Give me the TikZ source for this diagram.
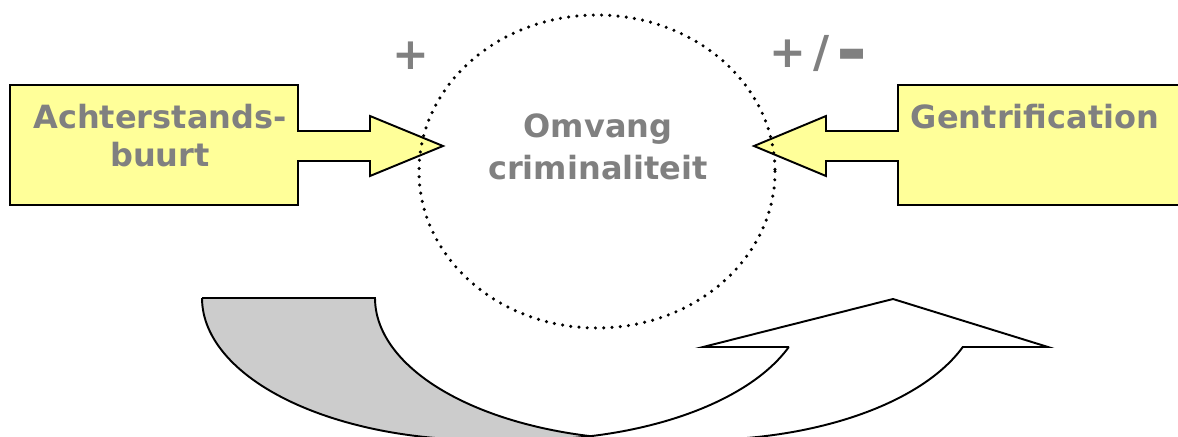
\documentclass[tikz,border=0pt]{standalone}
\usepackage{graphicx}
\usepackage{fontspec}
\setmainfont{DejaVu Sans}
\definecolor{boxyellow}{HTML}{FFFF99}
\definecolor{labelgray}{HTML}{808080}
\definecolor{bandgray}{HTML}{CCCCCC}

\begin{document}
\begin{tikzpicture}[x=0.75pt,y=-0.75pt,
  outline/.style={draw=black,line width=1.45pt,line join=miter},
  factor/.style={outline,fill=boxyellow},
  txt/.style={text=labelgray,align=center,inner sep=0pt},
  sign/.style={text=labelgray,inner sep=0pt,font=\bfseries\fontsize{33}{33}\selectfont},
  dotring/.style={draw=black,line width=2.6pt,line cap=round,dash pattern=on 0pt off 6.2pt},
]
\useasboundingbox (0,0) rectangle (1178,436);
\clip (0,0) rectangle (1178,436);

% left factor: box with block arrow pointing right
\path[factor] (10,85) -- (298,85) -- (298,131) -- (370,131) -- (370,116) -- (443,146)
  -- (370,176) -- (370,161) -- (298,161) -- (298,205) -- (10,205) -- cycle;
% right factor: box with block arrow pointing left
\path[factor] (1190,85) -- (898,85) -- (898,131) -- (826,131) -- (826,116) -- (754,146)
  -- (826,176) -- (826,161) -- (898,161) -- (898,205) -- (1190,205) -- cycle;

% dotted ring
\draw[dotring] (597,171.5) ellipse [x radius=178, y radius=156.5];

% curved feedback arrow: grey back band
\path[outline,fill=bandgray] (202,298) -- (375,298)
  -- plot[domain=180:90,samples=60,variable=\t] ({655+280*cos(\t)},{298+142*sin(\t)})
  -- (482,440)
  -- plot[domain=90:180,samples=60,variable=\t] ({482+280*cos(\t)},{298+142*sin(\t)})
  -- cycle;
% curved feedback arrow: white front band with head
\path[outline,fill=white] (789,347) -- (703,347) -- (893,299) -- (1048,347) -- (963,347)
  -- plot[domain=20.2:90,samples=60,variable=\t] ({700+280*cos(\t)},{298+142*sin(\t)})
  -- (526,440)
  -- plot[domain=90:20.2,samples=60,variable=\t] ({526+280*cos(\t)},{298+142*sin(\t)})
  -- cycle;

% labels
\node[txt,font=\bfseries\fontsize{24}{28.5}\selectfont] (ach) at (160,136) {Achterstands-\\buurt};
\node[txt,font=\bfseries\fontsize{24}{28.5}\selectfont,anchor=base] (gen) at (1035,128) {Gentrification};
\node[txt,font=\bfseries\fontsize{24}{31.5}\selectfont] (crime) at (598,147) {Omvang\\criminaliteit};
\node[sign] (plus) at (411,55.5) {+};
\node[sign] (plusminus) at (818.5,55)
  {+\hspace{5pt}/\hspace{5pt}\raisebox{-5.4pt}{\scalebox{1.7}[1.6]{-}}};
\end{tikzpicture}
\end{document}
